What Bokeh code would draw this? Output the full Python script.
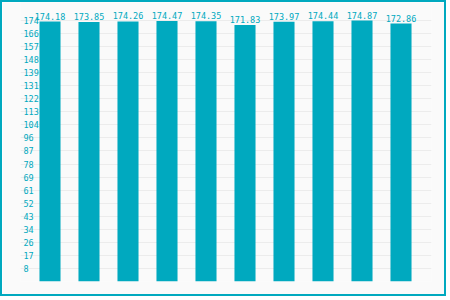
from bokeh.plotting import figure
from bokeh.models import ColumnDataSource, FixedTicker, LabelSet, Range1d
from bokeh.core.properties import value
from bokeh.embed import file_html
from bokeh.resources import INLINE

categories = ["1", "2", "3", "4", "5", "6", "7", "8", "9", "10"]
values = [174.18, 173.85, 174.26, 174.47, 174.35, 171.83, 173.97, 174.44, 174.87, 172.86]
tick_values = [8.74, 17.49, 26.23, 34.97, 43.72, 52.46, 61.20, 69.95, 78.69, 87.44,
               96.18, 104.92, 113.67, 122.41, 131.15, 139.90, 148.64, 157.38, 166.13, 174.87]
tick_labels = ["8", "17", "26", "34", "43", "52", "61", "69", "78", "87",
               "96", "104", "113", "122", "131", "139", "148", "157", "166", "174"]

TEAL = "#00a9bf"
BG = "#fafafa"
FONT = "DejaVu Sans Mono"

xs = list(range(len(categories)))
src = ColumnDataSource(dict(x=xs, v=values, lbl=["%.2f" % v for v in values]))
tsrc = ColumnDataSource(dict(y=tick_values, t=tick_labels))

p = figure(width=446, height=296, output_backend="svg", toolbar_location=None,
           x_range=Range1d(-0.7564, 9.782), y_range=Range1d(0, 186.93),
           min_border_left=18, min_border_right=17, min_border_top=0, min_border_bottom=17)
p.styles = {"border": "2px solid " + TEAL}
p.background_fill_color = BG
p.border_fill_color = BG
p.outline_line_color = None
p.xaxis.visible = False
p.yaxis.visible = False
p.xgrid.grid_line_color = None
p.ygrid.ticker = FixedTicker(ticks=tick_values)
p.ygrid.grid_line_color = "#ececec"
p.ygrid.grid_line_width = 1

p.vbar(x="x", top="v", width=0.54, bottom=0, source=src, fill_color=TEAL, line_color=None)

labels_v = LabelSet(x="x", y="v", text="lbl", source=src, text_align="center",
                    text_baseline="bottom", y_offset=2, text_color=TEAL,
                    text_font=value(FONT), text_font_size="8.5px")
p.add_layout(labels_v)

labels = LabelSet(x=3, x_units="screen", y="y", text="t", source=tsrc,
                  text_align="left", text_baseline="middle", text_color=TEAL,
                  text_font=value(FONT), text_font_size="8.5px")
p.add_layout(labels)

open("out.html", "w").write(file_html(p, INLINE))
